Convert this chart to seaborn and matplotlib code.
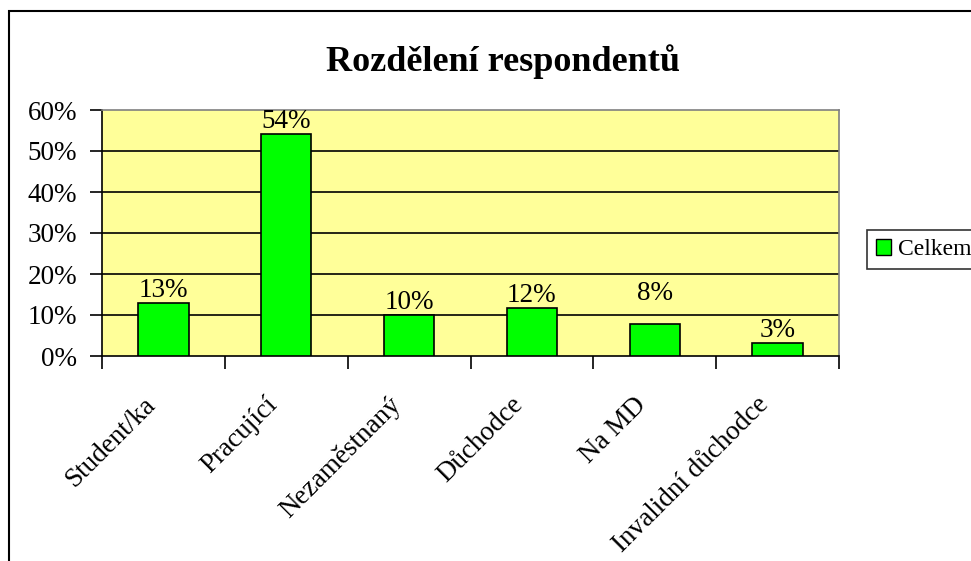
import numpy as np
import pandas as pd
import matplotlib
matplotlib.use('Agg')
import matplotlib.pyplot as plt
import matplotlib.transforms as mtransforms
import seaborn as sns
from matplotlib.patches import Rectangle, Patch

# data
categories = ['Student/ka', 'Pracující', 'Nezaměstnaný', 'Důchodce', 'Na MD', 'Invalidní důchodce']
shares = [12.9, 54.1, 10.0, 11.7, 7.7, 3.2]
series_name = 'Celkem'
y_ticks = [0, 10, 20, 30, 40, 50, 60]

# extra lift (in %-points) of the value labels, Excel placed "8%" higher
label_lift = [0, 0, 0, 0, 4.5, 0]

BAR = '#00FF00'
PLOT_BG = '#FFFF99'
FS = 19.5

sns.set_theme(style='white')
plt.rcParams['font.family'] = ['Liberation Serif', 'DejaVu Serif']
plt.rcParams['text.color'] = 'black'
plt.rcParams['xtick.color'] = 'black'
plt.rcParams['ytick.color'] = 'black'

df = pd.DataFrame({'kategorie': categories, 'podil': shares})

fig = plt.figure(figsize=(9.71, 5.61), dpi=100)
ax = fig.add_axes([102 / 971, 1 - 356 / 561, 737 / 971, 246 / 561])
ax.set_facecolor(PLOT_BG)

sns.barplot(data=df, x='kategorie', y='podil', color=BAR, saturation=1,
            edgecolor='black', linewidth=1.2, width=0.41, ax=ax, zorder=3)

ax.set_ylim(0, 60)
ax.set_xlim(-0.5, len(categories) - 0.5)
ax.set_yticks(y_ticks)
ax.set_yticklabels([f'{t}%' for t in y_ticks], fontsize=FS)
for t in y_ticks[1:-1]:
    ax.axhline(t, color='black', linewidth=1.2, zorder=1)

# category boundaries get the ticks, labels sit at the centres
ax.set_xticks(np.arange(-0.5, len(categories)))
ax.set_xticklabels([])
ax.set_xticks(np.arange(len(categories)), minor=True)
ax.set_xticklabels(categories, minor=True, rotation=45, ha='right',
                   rotation_mode='anchor', fontsize=FS)
ax.tick_params(axis='x', which='major', direction='out', length=9, width=1.2, color='black', bottom=True)
ax.tick_params(axis='x', which='minor', length=0, pad=26)
ax.tick_params(axis='y', direction='out', length=9, width=1.2, color='black', left=True, pad=9)
ax.set_xlabel('')
ax.set_ylabel('')

shift = mtransforms.ScaledTranslation(-0.21, 0, fig.dpi_scale_trans)
for lab in ax.get_xticklabels(minor=True):
    lab.set_transform(lab.get_transform() + shift)

for side in ['left', 'bottom']:
    ax.spines[side].set_color('black')
    ax.spines[side].set_linewidth(1.2)
for side in ['top', 'right']:
    ax.spines[side].set_color('#808080')
    ax.spines[side].set_linewidth(1.2)

for i, (v, lift) in enumerate(zip(shares, label_lift)):
    ax.text(i, v + lift, f'{round(v)}%', ha='center', va='bottom', fontsize=FS, zorder=4)

fig.text(503 / 971, 1 - 62 / 561, 'Rozdělení respondentů', ha='center', va='center',
         fontsize=26, fontweight='bold')

handle = Patch(facecolor=BAR, edgecolor='black', linewidth=1)
leg = fig.legend([handle], [series_name], loc='center left',
                 bbox_to_anchor=(867 / 971, 1 - 249.5 / 561), fontsize=17,
                 frameon=True, fancybox=False, edgecolor='black', borderpad=0.37,
                 handlelength=0.64, handleheight=0.64, handletextpad=0.3, borderaxespad=0)
leg.get_frame().set_linewidth(1.2)

# outer chart frame, runs off the right and bottom edge like the original
fig.patches.append(Rectangle((9 / 971, -0.1), 1.1, 1 - 11 / 561 + 0.1, transform=fig.transFigure,
                             fill=False, edgecolor='black', linewidth=1.5, zorder=0))

fig.savefig('out.png', dpi=100, facecolor='white')
